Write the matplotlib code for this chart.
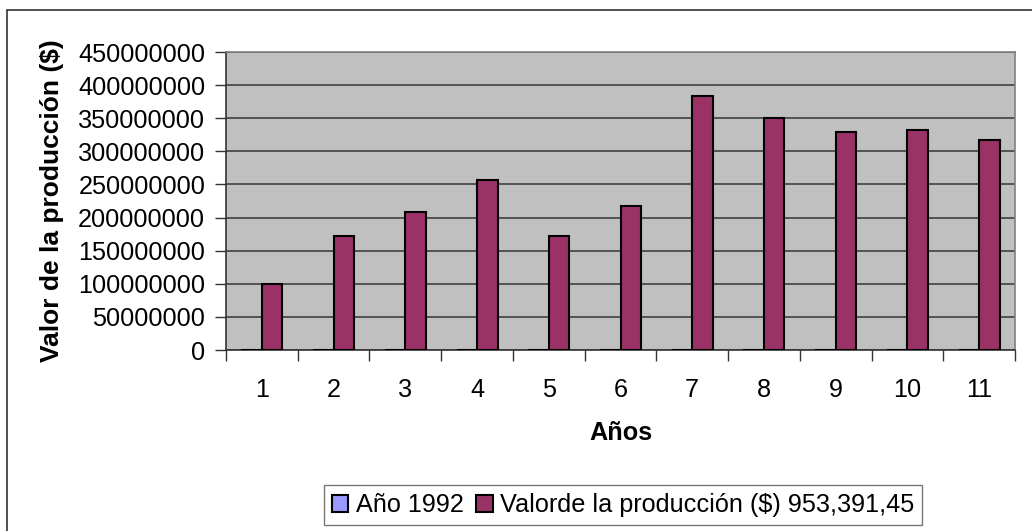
import numpy as np
import matplotlib
matplotlib.use("Agg")
import matplotlib.pyplot as plt
from matplotlib.patches import Rectangle

plt.rcParams['font.family'] = ['Liberation Sans', 'DejaVu Sans']

# data
categorias = list(range(1, 12))
anios = [1992, 1993, 1994, 1995, 1996, 1997, 1998, 1999, 2000, 2001, 2002]
valor = [100e6, 172e6, 208e6, 256e6, 172e6, 217e6, 383e6, 350e6, 329e6, 332e6, 317e6]
yticks = list(range(0, 450000001, 50000000))

fig = plt.figure(figsize=(10.32, 5.31), dpi=100)
# chart area border (cropped at right and bottom like the original)
fig.patches.append(Rectangle((7 / 1032, -0.05), 1.2, 1 - 10 / 531 + 0.05,
                             transform=fig.transFigure, fill=False,
                             edgecolor='#333333', lw=1.2))

ax = fig.add_axes([226 / 1032, 1 - 350 / 531, (1015 - 226) / 1032, (350 - 52) / 531])
ax.set_facecolor('#C0C0C0')

x = np.array(categorias)
w = 1 / 3.5
ax.bar(x - w / 2, anios, width=w, color='#9999FF', edgecolor='black', lw=1.5,
       label='Año 1992', zorder=3)
ax.bar(x + w / 2, valor, width=w, color='#993366', edgecolor='black', lw=1.5,
       label='Valorde la producción ($) 953,391,45', zorder=3)

ax.set_xlim(0.5, 11.5)
ax.set_ylim(0, 450000000)
ax.set_yticks(yticks)
ax.set_yticklabels([str(v) for v in yticks], fontsize=18.2)
ax.yaxis.grid(True, color='#404040', lw=1.2, zorder=1)
ax.set_axisbelow(True)

# ticks at category boundaries, labels at centres
ax.set_xticks(np.arange(0.5, 12, 1))
ax.set_xticklabels([])
ax.set_xticks(x, minor=True)
ax.set_xticklabels([str(c) for c in categorias], minor=True, fontsize=18.2)
ax.tick_params(axis='x', which='major', direction='out', length=8, width=1, color='#333333')
ax.tick_params(axis='x', which='minor', length=0, pad=20)
ax.tick_params(axis='y', direction='out', length=8, width=1, color='#333333', pad=7)

for s in ['top', 'right']:
    ax.spines[s].set_color('#808080')
    ax.spines[s].set_linewidth(1.2)
for s in ['left', 'bottom']:
    ax.spines[s].set_color('#333333')
    ax.spines[s].set_linewidth(1.2)

ax.set_xlabel('Años', fontsize=18.2, fontweight='bold', labelpad=14)
ax.set_ylabel('Valor de la producción ($)', fontsize=19, fontweight='bold', labelpad=10)

fig.legend(loc='center', bbox_to_anchor=(623 / 1032, 1 - 505 / 531), ncol=2,
           fontsize=18.2, frameon=True, fancybox=False, edgecolor='#555555',
           handlelength=0.65, handleheight=0.65, handletextpad=0.3,
           columnspacing=0.5, borderpad=0.3)

fig.savefig('out.png', dpi=100)
